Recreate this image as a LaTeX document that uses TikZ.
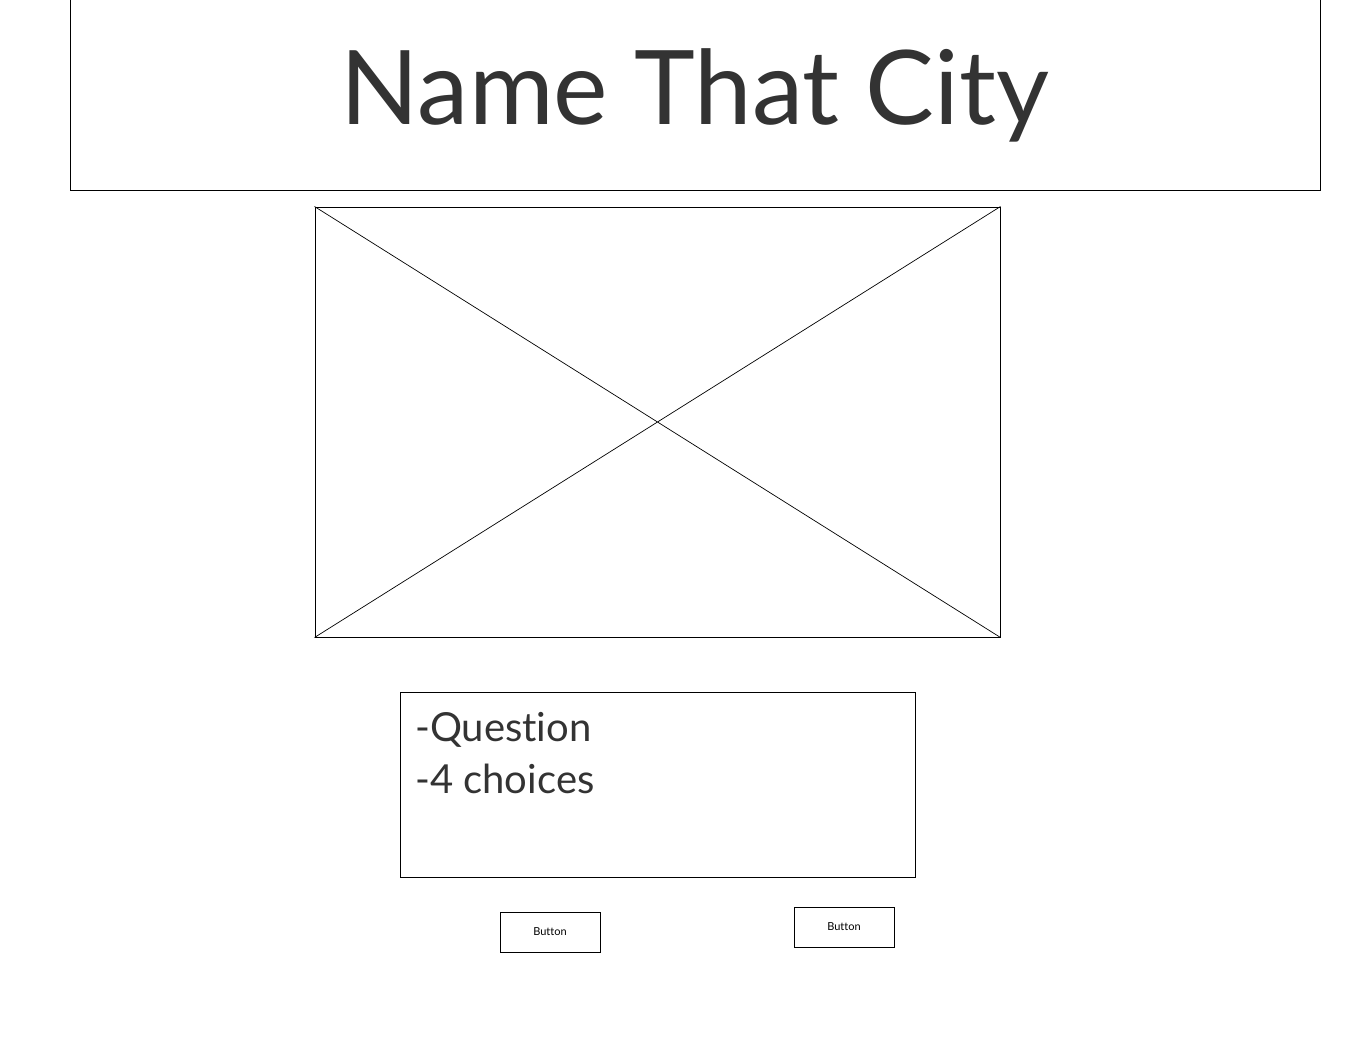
\documentclass[tikz,border=0pt]{standalone}
\usepackage{fontspec}
\setmainfont{Lato}[Ligatures={NoCommon}]
\usepackage{xcolor}
\definecolor{inkgray}{HTML}{333333}

\begin{document}
\begin{tikzpicture}[x=1pt, y=-1pt, every node/.style={inner sep=0pt},
    frame/.style={draw, line width=1pt, fill=white},
    btn/.style={frame, minimum width=100pt, minimum height=40pt, font=\fontsize{11}{13}\selectfont}]
   \useasboundingbox (0,0) rectangle (1370,1062);

   \node[frame, minimum width=1250pt, minimum height=190pt] (title) at (695,95)
        {\color{inkgray}\fontsize{103}{120}\selectfont\raisebox{-2pt}{Name That City}};
   \node[frame, minimum width=685pt, minimum height=430pt] (img) at (657.5,422) {};
   \draw[line width=0.7pt] (img.north west) -- (img.south east)
                           (img.south west) -- (img.north east);
   \node[frame, minimum width=515pt, minimum height=185pt] (quiz) at (657.5,784.5) {};
   \node[anchor=north west, align=left, text=inkgray,
         font=\fontsize{40}{52}\selectfont] (quiztext) at (415,712)
        {-Question\\-4 choices};

   \node[btn] (prev) at (550,932) {\raisebox{-1pt}{Button}};
   \node[btn] (next) at (844,927) {\raisebox{-1pt}{Button}};
\end{tikzpicture}
\end{document}
